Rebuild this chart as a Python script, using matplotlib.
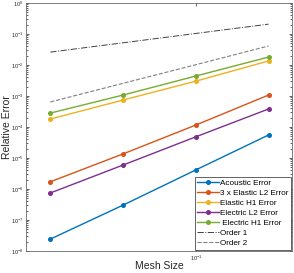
import matplotlib as mplt
mplt.use("Agg")
import matplotlib.pyplot as plt
from matplotlib.ticker import FixedLocator, NullLocator, NullFormatter, LogFormatterSciNotation

plt.rcParams['font.family'] = ['Liberation Sans', 'DejaVu Sans']
plt.rcParams['mathtext.fontset'] = 'custom'
plt.rcParams['mathtext.rm'] = 'Liberation Sans'

mesh_size = [0.025, 0.05, 0.1, 0.2]

acoustic = [2.4e-8, 3.0e-7, 4.1e-6, 5.5e-5]
elastic_l2_x3 = [1.7e-6, 1.35e-5, 1.15e-4, 1.07e-3]
elastic_h1 = [1.8e-4, 7.4e-4, 3.0e-3, 1.35e-2]
electric_l2 = [7.4e-7, 5.9e-6, 4.8e-5, 3.8e-4]
electric_h1 = [2.8e-4, 1.07e-3, 4.4e-3, 1.8e-2]

order1 = [2.6e-2, 5.2e-2, 1.04e-1, 2.08e-1]
order2 = [6.4e-4, 2.56e-3, 1.02e-2, 4.1e-2]

x_ticks = [0.1]
y_ticks = [1e-8, 1e-7, 1e-6, 1e-5, 1e-4, 1e-3, 1e-2, 1e-1, 1e0]

# (values, legend label, MATLAB default colour)
SERIES = [
    (acoustic,      'Acoustic Error',       '#0072BD'),
    (elastic_l2_x3, '3 x Elastic L2 Error', '#D95319'),
    (elastic_h1,    'Elastic H1 Error',     '#EDB120'),
    (electric_l2,   'Electric L2 Error',    '#7E2F8E'),
    (electric_h1,   ' Electric H1 Error',   '#77AC30'),
]

fig = plt.figure(figsize=(2.94, 2.73), dpi=100)
ax = fig.add_axes([0.088, 0.081, 0.905, 0.908])

for values, label, color in SERIES:
    ax.loglog(mesh_size, values, '-o', color=color, label=label,
              linewidth=1.0, markersize=2.6)

ax.loglog(mesh_size, order1, '-.', color='#404040', linewidth=0.7, label='Order 1')
ax.loglog(mesh_size, order2, '--', color='#808080', linewidth=0.8, label='Order 2')

ax.set_xlim(0.0198, 0.25)
ax.set_ylim(1e-8, 1e0)

# minor ticks at 2..9 x each decade, inside the visible range only
y_minor = [m * d for d in y_ticks[:-1] for m in range(2, 10)]

ax.xaxis.set_major_locator(FixedLocator(x_ticks))
ax.xaxis.set_minor_locator(NullLocator())
ax.xaxis.set_major_formatter(LogFormatterSciNotation())
ax.yaxis.set_major_locator(FixedLocator(y_ticks))
ax.yaxis.set_minor_locator(FixedLocator(y_minor))
ax.yaxis.set_major_formatter(LogFormatterSciNotation())
ax.yaxis.set_minor_formatter(NullFormatter())

ax.tick_params(which='both', direction='in', top=True, right=True,
               colors='#262626', labelcolor='#262626', labelsize=4, width=0.5, pad=2)
ax.tick_params(which='major', length=2.5)
ax.tick_params(which='minor', length=1.3)
for spine in ax.spines.values():
    spine.set_color('#6a6a6a')
    spine.set_linewidth(0.6)

ax.set_xlabel('Mesh Size', fontsize=7.5, color='#262626')
ax.set_ylabel('Relative Error', fontsize=7.5, color='#262626')
ax.xaxis.set_label_coords(0.5, -0.042)
ax.yaxis.set_label_coords(-0.052, 0.5)

leg = ax.legend(loc='lower right', fontsize=5.9, handlelength=2.6, handletextpad=0.15,
                labelspacing=0.28, borderpad=0.3, borderaxespad=0.15,
                fancybox=False, framealpha=1)
leg.get_frame().set_edgecolor('#262626')
leg.get_frame().set_linewidth(0.5)

plt.savefig('out.png', dpi=100)
plt.close()
